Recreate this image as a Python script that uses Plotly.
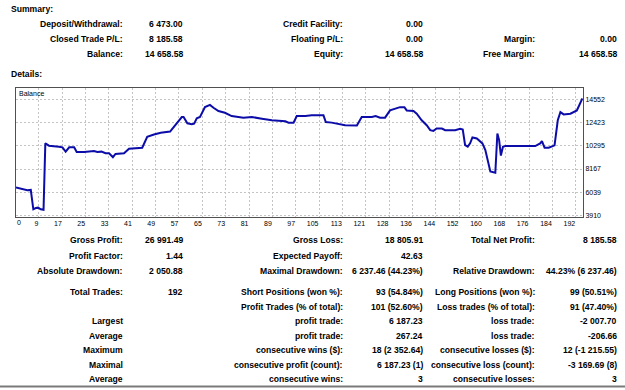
import plotly.graph_objects as go

W, H = 625, 390

# ---- balance curve (vertices: trade index, balance) ----
trade_idx = [1.16, 3.3, 5.0, 6.2, 7.07, 7.9, 8.7, 9.6, 10.55, 11.16, 12.4, 15.8, 17.0, 18.1,
             19.3, 21.0, 21.85, 24.4, 27.76, 28.9, 30.3, 31.7, 32.9, 34.2, 35.1, 38.0, 39.7,
             44.2, 45.9, 48.2, 50.5, 53.7, 57.7, 58.3, 59.6, 61.1, 61.9, 62.8, 63.9, 65.6,
             67.3, 68.5, 70.2, 72.4, 74.7, 78.7, 81.6, 85.0, 88.4, 93.0, 94.1, 95.8, 96.9,
             99.8, 102.0, 106.0, 106.8, 108.8, 111.1, 113.4, 117.4, 119.05, 122.5, 123.8,
             125.3, 127.0, 128.7, 131.0, 132.1, 133.6, 134.4, 136.7, 137.8, 139.5, 141.2,
             142.4, 143.5, 144.6, 146.4, 147.5, 150.9, 152.6, 153.5, 154.3, 155.2, 156.0,
             156.8, 158.3, 160.2, 161.2, 162.9, 164.6, 165.3, 165.9, 166.5, 167.2, 168.0,
             178.2, 179.9, 180.5, 181.4, 182.8, 184.8, 185.9, 186.8, 187.9, 190.2, 192.4, 194.3]
balance = [6473, 6300, 6221, 6249, 4466, 4587, 4617, 4466, 4422, 10523, 10311, 10220, 10159, 9765,
           10159, 10159, 9735, 9735, 9826, 9735, 9765, 9614, 9614, 9250, 9554, 9614, 10038,
           10129, 11129, 11341, 11492, 11610, 12946, 12946, 12370, 12280, 12340, 12825, 12946, 13855,
           14060, 13794, 13491, 13340, 13037, 12885, 12946, 12794, 12643, 12553, 12431, 12431, 13037,
           13037, 13098, 13098, 12492, 12431, 12280, 12189, 12159, 12946, 12946, 13037,
           12885, 12885, 13552, 13794, 13855, 13855, 13552, 13491, 13249, 12643, 12189,
           11735, 11674, 11886, 11886, 11735, 11735, 11856, 11795, 10371, 10220, 10523,
           11068, 10977, 10523, 9917, 7948, 7823, 11431, 10826, 9402, 10220, 10280,
           10280, 10523, 10735, 10129, 10129, 10341, 12643, 13401, 13189, 13249, 13552, 14658]

x_tick_labels = ["9", "17", "25", "33", "41", "49", "57", "65", "73", "81", "89", "97", "105",
                 "113", "121", "128", "136", "144", "152", "160", "168", "176", "184", "192"]
y_tick_vals = [3910, 6039, 8167, 10295, 12423, 14552]

summary_rows = [
    ["Deposit/Withdrawal:", "6 473.00", "Credit Facility:", "0.00", "", ""],
    ["Closed Trade P/L:", "8 185.58", "Floating P/L:", "0.00", "Margin:", "0.00"],
    ["Balance:", "14 658.58", "Equity:", "14 658.58", "Free Margin:", "14 658.58"],
]
details_rows = [
    ["Gross Profit:", "26 991.49", "Gross Loss:", "18 805.91", "Total Net Profit:", "8 185.58"],
    ["Profit Factor:", "1.44", "Expected Payoff:", "42.63", "", ""],
    ["Absolute Drawdown:", "2 050.88", "Maximal Drawdown:", "6 237.46 (44.23%)",
     "Relative Drawdown:", "44.23% (6 237.46)"],
]
trade_rows = [
    ["Total Trades:", "192", "Short Positions (won %):", "93 (54.84%)", "Long Positions (won %):", "99 (50.51%)"],
    ["", "", "Profit Trades (% of total):", "101 (52.60%)", "Loss trades (% of total):", "91 (47.40%)"],
    ["Largest", "", "profit trade:", "6 187.23", "loss trade:", "-2 007.70"],
    ["Average", "", "profit trade:", "267.24", "loss trade:", "-206.66"],
    ["Maximum", "", "consecutive wins ($):", "18 (2 352.64)", "consecutive losses ($):", "12 (-1 215.55)"],
    ["Maximal", "", "consecutive profit (count):", "6 187.23 (1)", "consecutive loss (count):", "-3 169.69 (8)"],
    ["Average", "", "consecutive wins:", "3", "consecutive losses:", "3"],
]

# ---- layout geometry (pixels) ----
col_right = [124, 184, 344, 424, 536, 618]
summary_y = [24, 39.5, 54.5]
details_y = [241.5, 257, 272.5]
trade_y = [294, 308.5, 323, 337.5, 352, 366.5, 381]
plot_l, plot_r, plot_t, plot_b = 16, 583, 88.7, 218
x_range = [1.16, 194.5]
y_range = [3770, 15590]

FONT = "Liberation Sans, Arial, sans-serif"
TXT = "#000000"


def px(x):
    return x / W


def py(y):
    return 1 - y / H


fig = go.Figure()
fig.add_trace(go.Scatter(x=trade_idx, y=balance, mode="lines",
                         line=dict(color="#0c0ca8", width=2), hoverinfo="skip",
                         showlegend=False))

n = len(x_tick_labels)
tick_pos = [9 + k * (192 - 9) / (n - 1) for k in range(n)]

grid = dict(showgrid=True, gridcolor="#c4c4c4", griddash="2px,2px", gridwidth=1,
            zeroline=False, showline=True, mirror=True, linecolor="#505050", linewidth=1,
            ticks="", tickfont=dict(family=FONT, size=7, color=TXT), fixedrange=True)

fig.update_layout(
    width=W, height=H, autosize=False,
    margin=dict(l=0, r=0, t=0, b=0, pad=0),
    paper_bgcolor="white", plot_bgcolor="white",
    xaxis=dict(domain=[px(plot_l), px(plot_r)], range=x_range, tickmode="array",
               tickvals=tick_pos, ticktext=x_tick_labels, ticklabelposition="outside left", **grid),
    yaxis=dict(domain=[py(plot_b), py(plot_t)], range=y_range, side="right", tickmode="array",
               tickvals=y_tick_vals, ticktext=[str(v) for v in y_tick_vals], **grid),
)

ann = []


def text(x, y, s, anchor="right", bold=True, size=8.6):
    if not s:
        return
    ann.append(dict(x=px(x), y=py(y), xref="paper", yref="paper", text=("<b>%s</b>" % s) if bold else s,
                    showarrow=False, xanchor=anchor, yanchor="middle",
                    font=dict(family=FONT, size=size, color=TXT), borderpad=0))


text(10, 9.5, "Summary:", anchor="left")
text(10, 74, "Details:", anchor="left")
for rows, ys in ((summary_rows, summary_y), (details_rows, details_y), (trade_rows, trade_y)):
    for row, y in zip(rows, ys):
        for s, xr in zip(row, col_right):
            text(xr, y, s)

# chart title inside plot and first x label "0"
ann.append(dict(x=px(18), y=py(93.5), xref="paper", yref="paper", text="Balance", showarrow=False,
                xanchor="left", yanchor="middle", font=dict(family=FONT, size=7, color=TXT), borderpad=0))
ann.append(dict(x=x_range[0], y=py(plot_b), xref="x", yref="paper", text="0", showarrow=False,
                xanchor="left", yanchor="top", yshift=-1, font=dict(family=FONT, size=7, color=TXT),
                borderpad=0))
fig.update_layout(annotations=ann)

# bottom rule of the report
fig.add_shape(type="line", xref="paper", yref="paper", x0=0, x1=1, y0=py(388.5), y1=py(388.5),
              line=dict(color="#7a7a7a", width=2))

fig.write_html("out.html", config={"displayModeBar": False, "staticPlot": True})
